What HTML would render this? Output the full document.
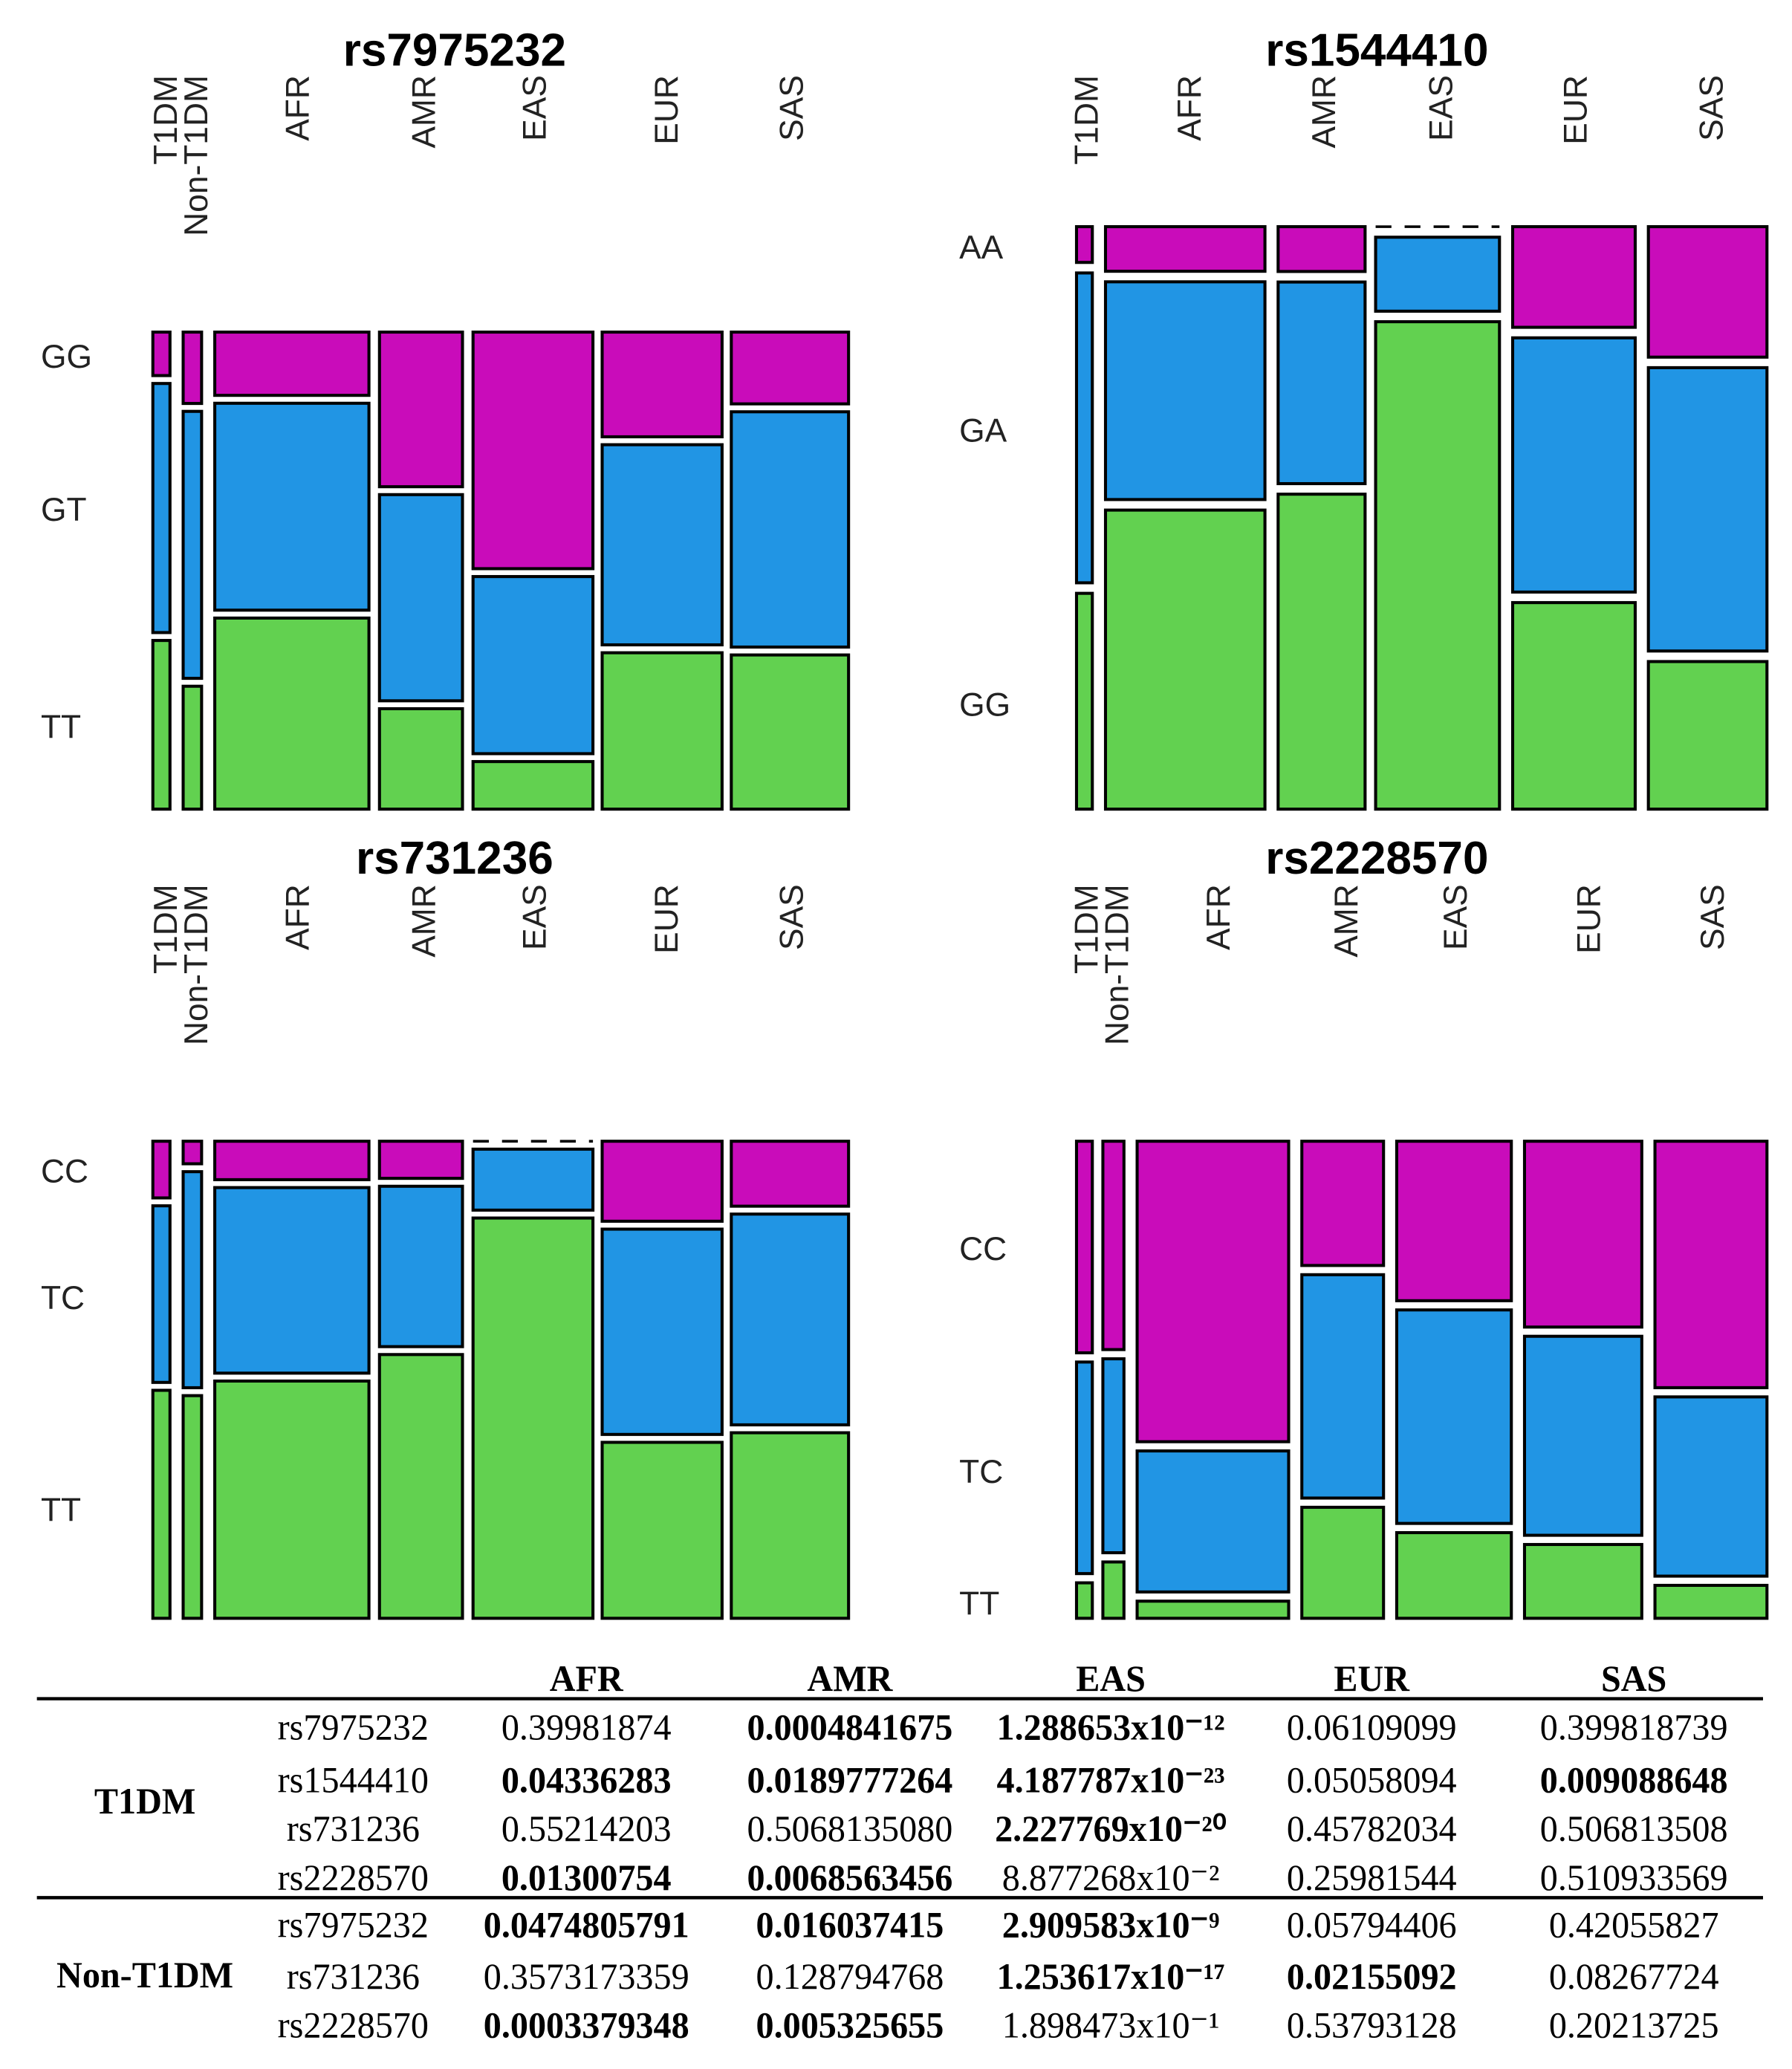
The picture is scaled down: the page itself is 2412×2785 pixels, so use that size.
<!DOCTYPE html>
<html><head><meta charset="utf-8"><style>
html,body{margin:0;padding:0;background:#fff;}
svg{display:block;}
</style></head>
<body>
<svg id="fig" width="2412" height="2785" viewBox="0 0 1360 1570" preserveAspectRatio="none" xmlns="http://www.w3.org/2000/svg"></svg>
<script>
// ---- Panel data (segment weights, top->bottom: hom1, het, hom2) ----
const p1Cats = ["T1DM","Non-T1DM","AFR","AMR","EAS","EUR","SAS"];
const p1Rows = ["GG","GT","TT"];
const p1Top = [33,54,48,117,179,79,54];
const p1Mid = [189,202,157,156,134,151,177];
const p1Bot = [128,93,145,76,36,118,116];

const p2Cats = ["T1DM","AFR","AMR","EAS","EUR","SAS"];
const p2Rows = ["AA","GA","GG"];
const p2Top = [27,34,34,0,76,99];
const p2Mid = [234,166,153,56,192,215];
const p2Bot = [163,228,239,369,156,112];

const p3Cats = ["T1DM","Non-T1DM","AFR","AMR","EAS","EUR","SAS"];
const p3Rows = ["CC","TC","TT"];
const p3Top = [43,17,29,28,0,60,49];
const p3Mid = [134,163,140,121,46,154,159];
const p3Bot = [173,168,179,199,302,132,140];

const p4Cats = ["T1DM","Non-T1DM","AFR","AMR","EAS","EUR","SAS"];
const p4Rows = ["CC","TC","TT"];
const p4Top = [161,159,228,94,121,141,187];
const p4Mid = [161,148,107,169,162,151,136];
const p4Bot = [27,43,13,84,65,56,25];

// ---- Table data ----
const tblCols = ["AFR","AMR","EAS","EUR","SAS"];
const tblGroups = ["T1DM","Non-T1DM"];
const tblSnps = ["rs7975232","rs1544410","rs731236","rs2228570","rs7975232","rs731236","rs2228570"];
const tblVals = [
 ["0.39981874","0.0004841675","1.288653x10⁻¹²","0.06109099","0.399818739"],
 ["0.04336283","0.0189777264","4.187787x10⁻²³","0.05058094","0.009088648"],
 ["0.55214203","0.5068135080","2.227769x10⁻²⁰","0.45782034","0.506813508"],
 ["0.01300754","0.0068563456","8.877268x10⁻²","0.25981544","0.510933569"],
 ["0.0474805791","0.016037415","2.909583x10⁻⁹","0.05794406","0.42055827"],
 ["0.3573173359","0.128794768","1.253617x10⁻¹⁷","0.02155092","0.08267724"],
 ["0.0003379348","0.005325655","1.898473x10⁻¹","0.53793128","0.20213725"]];
const tblBold = [
 [0,1,1,0,0],[1,1,1,0,1],[0,0,1,0,0],[1,1,0,0,0],
 [1,1,1,0,0],[0,0,1,1,0],[1,1,0,0,0]];

const NS="http://www.w3.org/2000/svg";
const svg=document.getElementById('fig');
function mk(tag,attrs,parent){const e=document.createElementNS(NS,tag);for(const k in attrs)e.setAttribute(k,attrs[k]);(parent||svg).appendChild(e);return e;}
const COLORS=["#c90cba","#2195e4","#62d150"];
const SANS='font-family:"Liberation Sans",sans-serif';
const SERIF='font-family:"Liberation Serif",serif';

function panel(id,title,titleX,titleY,cats,rows,top,mid,bot,colX,colW,labelX,labelY,y0,y1,gap,rowLabX,rowLabY){
  const g=mk('g',{});
  
  
  const t=mk('text',{x:titleX,y:titleY,'text-anchor':'middle','font-size':35,'font-weight':'bold',style:SANS},g);
  t.textContent=title;
  
  
  cats.forEach((c,i)=>{
    const lt=mk('text',{transform:`translate(${labelX[i]},${labelY}) rotate(-90)`,'text-anchor':'end','font-size':25,'dominant-baseline':'central',fill:'#222',style:SANS},g);
    lt.textContent=c;
    
    
    const vals=[top[i],mid[i],bot[i]];
    const sum=vals[0]+vals[1]+vals[2];
    const avail=(y1-y0)-gap*2;
    let y=y0;
    vals.forEach((v,j)=>{
      const h=v/sum*avail;
      if(v===0){
        const dl=mk('line',{x1:colX[i],x2:colX[i]+colW[i],y1:y,y2:y,stroke:'#000','stroke-width':2,'stroke-dasharray':'12,10'},g);
        
        
      } else {
        const r=mk('rect',{x:colX[i],y:y,width:colW[i],height:h,fill:COLORS[j],stroke:'#000','stroke-width':2.3},g);
        
        
      }
      y+=h+gap;
    });
  });
  rows.forEach((r,j)=>{
    const rt=mk('text',{x:rowLabX,y:rowLabY[j],'font-size':25,'dominant-baseline':'central',fill:'#222',style:SANS},g);
    rt.textContent=r;
    
    
  });
}
const lx1=[116,139,163,288,359,457,555], lw1=[13,14,117,63,91,91,89];
panel('mosaic-rs7975232','rs7975232',345,50,p1Cats,p1Rows,p1Top,p1Mid,p1Bot,lx1,lw1,[126,149,226,322,406,506,601],57,252,614,6,31,[271,387,552]);
panel('mosaic-rs1544410','rs1544410',1045,50,p2Cats,p2Rows,p2Top,p2Mid,p2Bot,[817,839,970,1044,1148,1251],[12,121,66,94,93,90],[825,903,1005,1094,1196,1299],57,172,614,8,728,[188,327,535]);
panel('mosaic-rs731236','rs731236',345,663,p3Cats,p3Rows,p3Top,p3Mid,p3Bot,lx1,lw1,[126,149,226,322,406,506,601],671,866,1228,6,31,[889,985,1146]);
panel('mosaic-rs2228570','rs2228570',1045,663,p4Cats,p4Rows,p4Top,p4Mid,p4Bot,[817,837,863,988,1060,1157,1256],[12,16,115,62,87,89,85],[825,848,925,1022,1105,1206,1300],671,866,1228,7,728,[948,1117,1217]);

// ---- Table ----
const tg=mk('g',{});


const colCx=[445,645,843,1041,1240];
function ttext(str,cx,y,bold,name){
  const t=mk('text',{transform:`translate(${cx},${y}) scale(0.97,1)`,'text-anchor':'middle','font-size':28,'font-weight':bold?'bold':'normal',style:SERIF},tg);
  t.textContent=str;
  
  
}
tblCols.forEach((c,i)=>ttext(c,colCx[i],1283,true,'table-header-'+c.toLowerCase()));
const hl1=mk('line',{x1:28,x2:1338,y1:1289,y2:1289,stroke:'#000','stroke-width':2.5},tg);


const hl2=mk('line',{x1:28,x2:1338,y1:1440,y2:1440,stroke:'#000','stroke-width':2.5},tg);


const rowY=[1320,1360,1397,1434,1470,1509,1546];
ttext(tblGroups[0],110,1376,true,'group-label-t1dm');
ttext(tblGroups[1],110,1508,true,'group-label-non-t1dm');
tblSnps.forEach((s,r)=>{
  ttext(s,268,rowY[r],false,'snp-label-'+s);
  tblVals[r].forEach((v,c)=>ttext(v,colCx[c],rowY[r],tblBold[r][c]===1,'p-value-'+r+'-'+c));
});
</script>
</body></html>
